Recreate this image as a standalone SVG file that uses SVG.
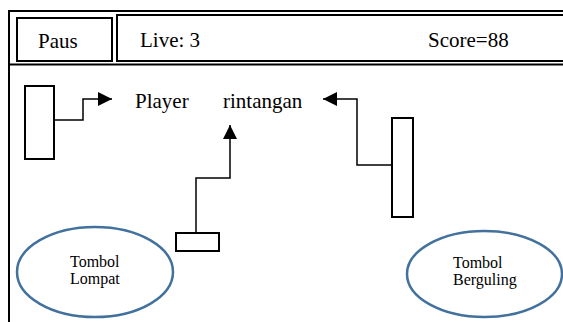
<svg xmlns="http://www.w3.org/2000/svg" width="563" height="322" viewBox="0 0 563 322">
<defs>
<marker id="arr" viewBox="0 0 10 10" refX="10" refY="5" markerWidth="15" markerHeight="14" markerUnits="userSpaceOnUse" orient="auto">
<path d="M0,0 L10,5 L0,10 Z" fill="#000"/>
</marker>
</defs>
<style>
.box{fill:#fff;stroke:#000;stroke-width:2}
.frame{fill:none;stroke:#000;stroke-width:2}
.conn{fill:none;stroke:#000;stroke-width:1.5}
.ell{fill:#fff;stroke:#41719c;stroke-width:2.5}
text{font-family:"Liberation Serif",serif;fill:#000}
.big{font-size:21px}
.small{font-size:16px}
</style>
<rect width="563" height="322" fill="#fff"/>
<g id="frame">
<path class="frame" d="M9,322 V11 H563"/>
<path class="frame" d="M9,64.5 H563"/>
</g>
<g id="paus">
<rect class="box" x="17" y="18" width="95" height="43"/>
<text class="big" x="38" y="48" font-family="Liberation Serif, serif">Paus</text>
</g>
<g id="status">
<rect class="box" x="117" y="15" width="460" height="46"/>
<text class="big" x="140" y="47" font-family="Liberation Serif, serif">Live: 3</text>
<text class="big" x="428" y="47" font-family="Liberation Serif, serif">Score=88</text>
</g>
<g id="player">
<text class="big" x="135" y="108" font-family="Liberation Serif, serif">Player</text>
</g>
<g id="rintangan">
<text class="big" x="223" y="108" font-family="Liberation Serif, serif">rintangan</text>
</g>
<g id="left-bar">
<rect class="box" x="25" y="86" width="29" height="73"/>
</g>
<g id="small-box">
<rect class="box" x="176" y="233" width="43" height="18"/>
</g>
<g id="right-bar">
<rect class="box" x="392" y="118" width="21" height="99"/>
</g>
<g id="tombol-lompat">
<ellipse class="ell" cx="95" cy="272" rx="78" ry="45"/>
<text class="small" x="70" y="267">Tombol</text>
<text class="small" x="70" y="284">Lompat</text>
</g>
<g id="tombol-berguling">
<ellipse class="ell" cx="484.5" cy="274" rx="77.5" ry="43"/>
<text class="small" x="453" y="268">Tombol</text>
<text class="small" x="453" y="285">Berguling</text>
</g>
<g id="connectors">
<path class="conn" d="M54,120 H83 V99 H112" marker-end="url(#arr)"/>
<path class="conn" d="M196,233 V178 H230 V125" marker-end="url(#arr)"/>
<path class="conn" d="M392,165 H357 V99 H323" marker-end="url(#arr)"/>
</g>
</svg>
